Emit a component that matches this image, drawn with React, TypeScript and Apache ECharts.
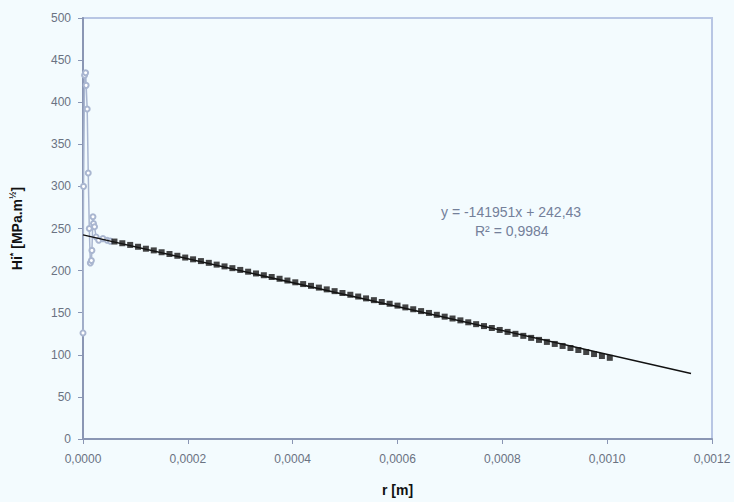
import React, { useEffect, useRef } from "react";
import * as echarts from "echarts";

// Light (grey-blue) measured series near r = 0
const nearX = [0, 0.000001, 0.000003, 0.000005, 0.000006, 0.000008, 0.00001, 0.000012, 0.000014, 0.000016, 0.000017, 0.000019, 0.00002, 0.000022, 0.000025, 0.00003, 0.000038, 0.000046, 0.000052];
const nearY = [126, 300, 432, 435, 420, 392, 316, 250, 209, 212, 224, 264, 256, 252, 240, 236, 238, 236, 235];

// Black square series
const mainX = [
  0.00006, 0.000075, 0.00009, 0.000105, 0.00012, 0.000135, 0.00015, 0.000165, 0.00018, 0.000195,
  0.00021, 0.000225, 0.00024, 0.000255, 0.00027, 0.000285, 0.0003, 0.000315, 0.00033, 0.000345,
  0.00036, 0.000375, 0.00039, 0.000405, 0.00042, 0.000435, 0.00045, 0.000465, 0.00048, 0.000495,
  0.00051, 0.000525, 0.00054, 0.000555, 0.00057, 0.000585, 0.0006, 0.000615, 0.00063, 0.000645,
  0.00066, 0.000675, 0.00069, 0.000705, 0.00072, 0.000735, 0.00075, 0.000765, 0.00078, 0.000795,
  0.00081, 0.000825, 0.00084, 0.000855, 0.00087, 0.000885, 0.0009, 0.000915, 0.00093, 0.000945,
  0.00096, 0.000975, 0.00099, 0.001005,
];
const mainY = [
  234.5, 232.5, 230.5, 228.3, 226.0, 224.0, 221.8, 219.7, 217.6, 215.5,
  213.4, 211.3, 209.2, 207.1, 205.0, 202.9, 200.8, 198.7, 196.6, 194.5,
  192.4, 190.3, 188.2, 186.1, 184.0, 181.9, 179.8, 177.7, 175.6, 173.4,
  171.3, 169.2, 167.0, 164.9, 162.7, 160.6, 158.4, 156.3, 154.1, 151.9,
  149.7, 147.5, 145.3, 143.1, 140.9, 138.6, 136.4, 134.1, 131.8, 129.5,
  127.2, 124.9, 122.5, 120.1, 117.7, 115.3, 112.9, 110.5, 108.1, 105.7,
  103.3, 100.9, 98.6, 96.4,
];

// Linear trendline endpoints: y = -141951x + 242.43
const trendX = [0, 0.00116];
const trendY = [242.43, 77.77];

const equationText = "y = -141951x + 242,43";
const r2Text = "R² = 0,9984";

export default function App() {
  const ref = useRef<HTMLDivElement>(null);
  useEffect(() => {
    if (!ref.current) return;
    const chart = echarts.init(ref.current, undefined, { renderer: "svg" });
    const axisColor = "#8a96b4";
    const labelColor = "#6a7282";
    chart.setOption({
      animation: false,
      backgroundColor: "#f3fbfe",
      grid: {
        left: 83,
        right: 22,
        top: 18,
        bottom: 63,
        show: true,
        borderColor: "#b8c6e4",
        borderWidth: 2,
        backgroundColor: "transparent",
      },
      xAxis: {
        type: "value",
        min: 0,
        max: 0.0012,
        interval: 0.0002,
        name: "r [m]",
        nameLocation: "middle",
        nameGap: 44,
        nameTextStyle: { fontFamily: "Liberation Sans", fontWeight: "bold", fontSize: 14, color: "#111" },
        axisLine: { show: true, lineStyle: { color: axisColor, width: 2 } },
        axisTick: { show: true, inside: false, length: 5, lineStyle: { color: axisColor } },
        axisLabel: {
          color: labelColor,
          fontFamily: "Liberation Sans",
          fontSize: 12,
          margin: 14,
          formatter: (v: number) => v.toFixed(4).replace(".", ","),
        },
        splitLine: { show: false },
      },
      yAxis: {
        type: "value",
        min: 0,
        max: 500,
        interval: 50,
        name: "Hi{sup|*} [MPa.m{sup|½}]",
        nameLocation: "middle",
        nameGap: 58,
        nameTextStyle: {
          fontFamily: "Liberation Sans",
          fontWeight: "bold",
          fontSize: 14,
          color: "#111",
          rich: {
            sup: { fontSize: 9, fontWeight: "bold", fontFamily: "Liberation Sans", color: "#111", padding: [0, 0, 8, 0] },
          },
        },
        axisLine: { show: true, lineStyle: { color: axisColor, width: 2 } },
        axisTick: { show: true, inside: false, length: 5, lineStyle: { color: axisColor } },
        axisLabel: { color: labelColor, fontFamily: "Liberation Sans", fontSize: 12, margin: 12 },
        splitLine: { show: false },
      },
      series: [
        {
          type: "line",
          data: trendX.map((x, i) => [x, trendY[i]]),
          showSymbol: false,
          symbol: "none",
          lineStyle: { color: "#111", width: 1.5 },
          z: 3,
        },
        {
          type: "line",
          data: nearX.map((x, i) => [x, nearY[i]]),
          symbol: "emptyCircle",
          symbolSize: 5,
          itemStyle: { color: "#a9b6d0", borderColor: "#a9b6d0", borderWidth: 1 },
          lineStyle: { color: "#a9b6d0", width: 1.5 },
          z: 2,
        },
        {
          type: "scatter",
          data: mainX.map((x, i) => [x, mainY[i]]),
          symbol: "rect",
          symbolSize: 6,
          itemStyle: { color: "#151515" },
          z: 4,
        },
      ],
      graphic: [
        {
          type: "text",
          left: 441,
          top: 205,
          style: { text: equationText, fill: "#74809a", font: "14px 'Liberation Sans'" },
        },
        {
          type: "text",
          left: 475,
          top: 224,
          style: { text: r2Text, fill: "#74809a", font: "14px 'Liberation Sans'" },
        },
      ],
    });
    return () => chart.dispose();
  }, []);
  return (
    <div
      ref={ref}
      style={{ position: "fixed", left: 0, top: 0, width: 734, height: 502, background: "#f3fbfe" }}
    />
  );
}
